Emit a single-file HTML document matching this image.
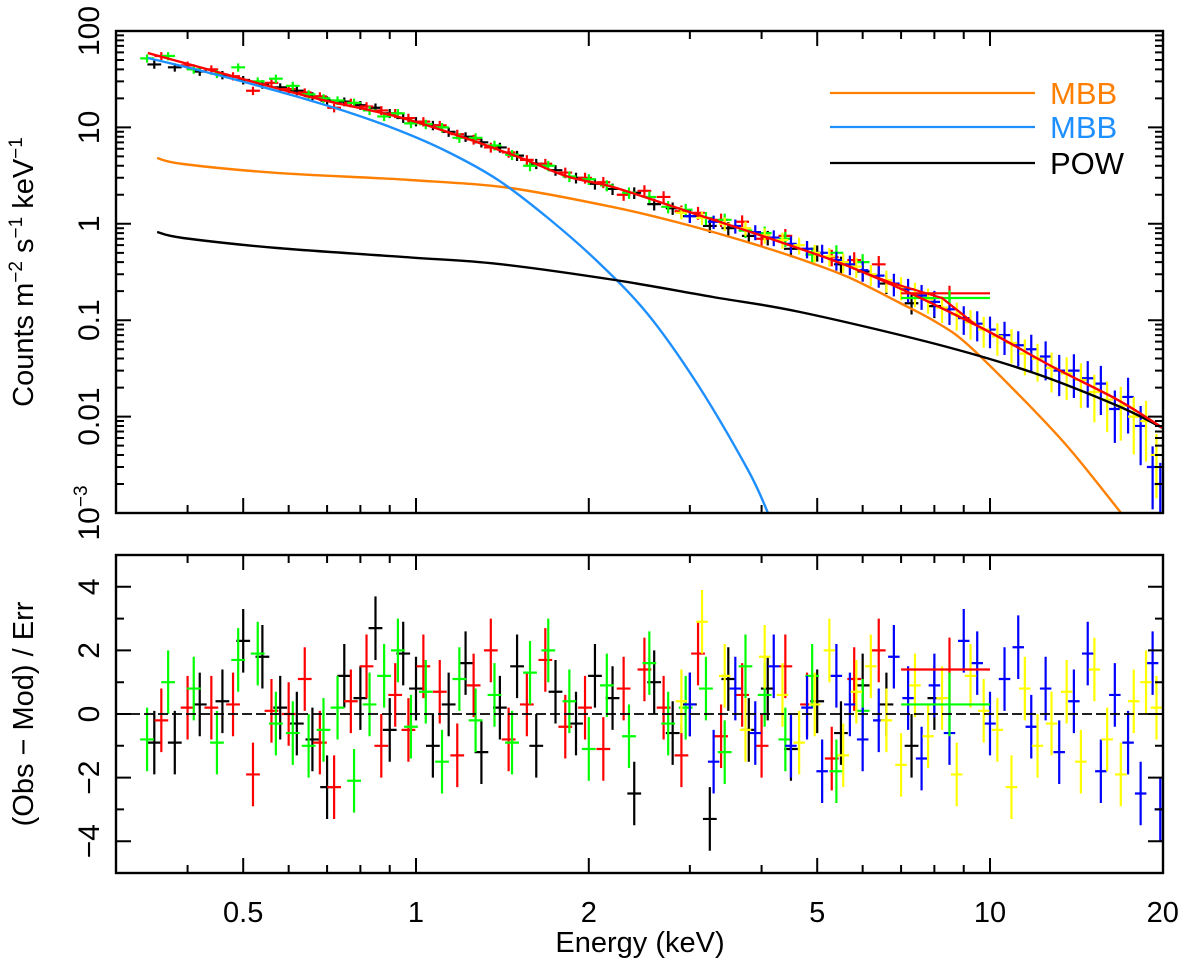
<!DOCTYPE html>
<html><head><meta charset="utf-8"><style>
html,body{margin:0;padding:0;background:#fff}
svg{display:block}
text{font-family:"Liberation Sans",sans-serif;fill:#000}
</style></head><body>
<svg id="chart" width="1200" height="965" viewBox="0 0 1200 965" xmlns="http://www.w3.org/2000/svg">
<g id="top-panel"></g>
<g id="bot-panel"></g>
<g id="axes"></g>
<g id="legend">
<line x1="830" y1="93" x2="1035" y2="93" stroke="#ff7f00" stroke-width="2.2"/>
<text x="1050" y="104" font-size="31" style="fill:#ff7f00">MBB</text>
<line x1="830" y1="127" x2="1035" y2="127" stroke="#1e8fff" stroke-width="2.2"/>
<text x="1050" y="138" font-size="31" style="fill:#1e8fff">MBB</text>
<line x1="830" y1="163" x2="1035" y2="163" stroke="#000" stroke-width="2.2"/>
<text x="1050" y="174" font-size="31">POW</text>
</g>
<text x="640" y="952" font-size="29" text-anchor="middle">Energy (keV)</text>
<text transform="translate(33,272) rotate(-90)" font-size="29" text-anchor="middle">Counts m<tspan font-size="19" dy="-11">−2</tspan><tspan dy="11"> s</tspan><tspan font-size="19" dy="-11">−1</tspan><tspan dy="11"> keV</tspan><tspan font-size="19" dy="-11">−1</tspan></text>
<text transform="translate(33,714) rotate(-90)" font-size="29" text-anchor="middle">(Obs − Mod) / Err</text>
</svg>
<script>
// ---- model curves (energy keV, counts) ----
const mbbBlueE = [0.341,0.417,0.510,0.623,0.761,0.930,1.137,1.390,1.698,2.075,2.537,3.099,3.788,4.105];
const mbbBlueV = [52.5,39.4,28.9,20.7,14.4,9.40,5.56,2.85,1.149,0.402,0.1146,0.02127,0.00279,0.001];
const mbbOrangeE = [0.354,0.3927,0.5727,0.976,1.458,2.204,2.884,3.773,4.667,5.657,6.97,8.05,9.08,11.15,13.67,16.92];
const mbbOrangeV = [4.82,4.17,3.37,2.85,2.35,1.49,1.02,0.647,0.431,0.2806,0.1509,0.0958,0.058,0.01757,0.00484,0.001];
const powE = [0.354,0.3927,0.5727,0.976,1.384,2.222,3.291,4.667,8.05,11.93,16.7,20.0];
const powV = [0.822,0.713,0.561,0.448,0.385,0.261,0.174,0.1217,0.0566,0.0283,0.0129,0.00762];
const totalE = [0.341,0.4377,0.6535,0.976,1.476,1.833,2.204,2.966,4.31,6.06,9.45,12.78,16.7,20.0];
const totalV = [59.1,39.4,20.7,11.9,5.17,3.1,2.41,1.35,0.647,0.309,0.0891,0.0335,0.0149,0.00762];
const bumpE = [6.06,6.75,8.25,9.45];
const bumpV = [0.309,0.243,0.170,0.0891];
// ---- data sets ----
const blackE = [0.35,0.38,0.42,0.46,0.5,0.54,0.58,0.62,0.66,0.7,0.75,0.8,0.85,0.9,0.95,1.0,1.07,1.14,1.22,1.3,1.4,1.5,1.62,1.75,1.9,2.05,2.2,2.4,2.6,2.8,3.0,3.25,3.5,3.8,4.1,4.5,5.0,5.5,6.0,6.6,7.3,8.0];
const blackF = [45,42,38,35,31,28,26,24,21,19,18.5,17,16,14,12.5,11.5,10.5,9,8,7,6.2,5.1,4.2,3.6,3.0,2.6,2.3,2.1,1.6,1.45,1.2,0.95,0.9,0.75,0.72,0.55,0.5,0.38,0.32,0.24,0.15,0.14];
const blackR = [-0.9,-0.9,0.3,0.4,2.3,1.8,0.2,-0.3,-0.8,-2.3,1.2,0.5,2.7,-0.5,1.9,0.8,-1.0,0.3,1.6,-1.2,0.2,1.5,-1.0,0.7,-0.3,1.2,0.5,-2.5,1.0,-0.6,0.3,-3.3,1.1,-0.5,0.8,-1.1,0.4,-0.6,0.9,0.3,-1.0,0.5];
const redE = [0.36,0.4,0.44,0.48,0.52,0.56,0.6,0.64,0.68,0.72,0.77,0.82,0.87,0.92,0.97,1.03,1.1,1.18,1.26,1.35,1.45,1.56,1.68,1.82,1.97,2.12,2.3,2.5,2.7,2.9,3.1,3.4,3.7,4.0,4.4,4.8,5.3,5.8,6.4];
const redF = [55,44,40,34,24,29,25,23,21,16,18,16.5,15,14,12.5,11.5,10.5,8.5,7.5,6.2,5.5,4.6,4.2,3.4,3.0,2.7,2.0,2.2,1.9,1.35,1.3,1.1,1.05,0.7,0.75,0.55,0.45,0.42,0.38];
const redR = [-0.2,0.2,0.2,0.3,-1.9,0.1,0.0,1.1,-0.9,-2.3,0.4,1.5,-1.0,0.6,-0.5,1.5,0.7,-1.3,0.9,2.0,-0.8,0.3,1.7,-0.4,0.2,-1.1,0.8,1.4,0.2,-1.3,1.9,-0.7,0.6,-1.0,1.5,0.3,-1.4,1.1,2.0];
const greenE = [0.34,0.37,0.41,0.45,0.49,0.53,0.57,0.61,0.65,0.69,0.73,0.78,0.83,0.88,0.93,0.98,1.04,1.11,1.19,1.27,1.37,1.47,1.58,1.7,1.85,2.0,2.15,2.35,2.55,2.75,2.95,3.2,3.45,3.75,4.05,4.4,4.9,5.4,6.0];
const greenF = [52,55,40,36,42,30,32,27,22,20,19,18,15,13,14,11,10.8,10,7.8,7.8,6.5,5.2,4.0,4.0,3.1,2.9,2.5,2.1,1.9,1.5,1.4,1.15,1.1,0.85,0.8,0.7,0.48,0.5,0.4];
const greenR = [-0.8,1.0,0.8,-0.9,1.7,1.9,-0.3,-0.6,-1.0,-0.5,0.2,-2.1,0.3,1.2,2.0,-0.4,0.7,-1.5,1.1,-0.2,0.6,-0.9,1.3,2.0,0.4,-1.1,0.9,-0.7,1.6,-0.3,0.2,0.8,-1.2,1.5,0.6,-0.8,1.2,-1.8,0.1];
const blueE = [3.0,3.3,3.6,3.9,4.2,4.5,4.8,5.1,5.4,5.7,6.0,6.4,6.8,7.2,7.6,8.0,8.5,9.0,9.5,10.0,10.6,11.2,11.8,12.5,13.2,14.0,14.8,15.6,16.5,17.4,18.3,19.2,19.8];
const blueF = [1.2,1.05,0.95,0.82,0.72,0.62,0.55,0.5,0.42,0.38,0.33,0.29,0.24,0.21,0.18,0.155,0.13,0.105,0.092,0.08,0.07,0.055,0.05,0.042,0.03,0.03,0.025,0.022,0.012,0.016,0.008,0.003,0.002];
const blueR = [0.3,-1.5,0.8,-0.6,1.5,-1.0,0.2,-1.8,1.2,0.3,-0.8,-0.2,1.8,0.5,-1.4,0.9,-0.6,2.3,1.6,-0.3,1.1,2.1,-0.4,0.8,-1.2,0.4,1.9,-1.8,0.6,-0.9,-2.5,1.6,-3.0];
const yellowE = [2.9,3.15,3.45,3.75,4.05,4.35,4.65,4.95,5.25,5.55,5.85,6.2,6.6,7.0,7.4,7.8,8.25,8.75,9.25,9.75,10.3,10.9,11.5,12.1,12.8,13.6,14.4,15.2,16.0,16.9,17.8,18.7,19.5];
const yellowF = [1.3,1.15,1.0,0.9,0.76,0.68,0.6,0.5,0.46,0.4,0.36,0.3,0.26,0.22,0.19,0.165,0.135,0.115,0.095,0.08,0.068,0.058,0.045,0.04,0.032,0.028,0.024,0.018,0.015,0.013,0.01,0.009,0.004];
const yellowR = [0.4,2.9,1.2,-0.5,1.8,0.6,-0.9,0.3,2.0,-1.3,0.7,1.5,-0.2,-1.6,0.9,-0.7,0.5,-1.9,1.2,0.1,-0.5,-2.3,0.8,-1.0,-0.3,0.7,-1.5,1.4,-0.8,-1.9,0.4,1.0,0.2];
const wideE = [8.5,8.5];
const wideLo = [7.0,7.0];
const wideHi = [10.0,10.0];
const wideF = [0.19,0.17];
const wideR = [1.4,0.3];
const wideSet = ['red','green'];
const xTicks = [0.5,1,2,5,10,20];
const xTickLabels = ['0.5','1','2','5','10','20'];
const yTopTicks = [100,10,1,0.1,0.01,0.001];
const yTopLabels = ['100','10','1','0.1','0.01','10^-3'];
const yBotTicks = [4,2,0,-2,-4];
const yBotLabels = ['4','2','0','−2','−4'];

const L=116,R=1163,T1=31,B1=513,T2=555,B2=873;
const xs=e=>416+574*Math.log10(e);
const yTop=v=>T1+(2-Math.log10(v))*96.4;
const yBot=r=>T2+(5-r)*(B2-T2)/10;
const NS='http://www.w3.org/2000/svg';
function mk(tag,attrs,parent){const el=document.createElementNS(NS,tag);for(const k in attrs)el.setAttribute(k,attrs[k]);parent.appendChild(el);return el;}
const topG=document.getElementById('top-panel'),botG=document.getElementById('bot-panel'),ax=document.getElementById('axes');
const svgEl=document.getElementById('chart');
const defs=mk('defs',{},svgEl);
const c1=mk('clipPath',{id:'c1'},defs);mk('rect',{x:L,y:T1,width:R-L,height:B1-T1},c1);
const c2=mk('clipPath',{id:'c2'},defs);mk('rect',{x:L,y:T2,width:R-L,height:B2-T2},c2);
topG.setAttribute('clip-path','url(#c1)');botG.setAttribute('clip-path','url(#c2)');
const COL={black:'#000',red:'#ff0000',green:'#00ff00',blue:'#0000ff',yellow:'#ffff00'};
const sets=[['black',blackE,blackF,blackR,0.012,0.09,0.02],['red',redE,redF,redR,0.012,0.09,0.02],['green',greenE,greenF,greenR,0.012,0.09,0.02],['blue',blueE,blueF,blueR,0.01,0.06,0.03],['yellow',yellowE,yellowF,yellowR,0.01,0.06,0.03]];
function cross(g,x1,x2,xc,y,y1,y2,col,name){
  const p=mk('path',{d:`M${x1},${y}H${x2}M${xc},${y1}V${y2}`,stroke:col,'stroke-width':2.2,fill:'none'},g);
  
  
}
for(const [name,E,F,Rs,hw,f0,f1] of sets){
  const gT=mk('g',{},topG);
  
  
  const gB=mk('g',{},botG);
  
  
  for(let i=0;i<E.length;i++){
    const xc=xs(E[i]),x1=xs(E[i]*Math.pow(10,-hw)),x2=xs(E[i]*Math.pow(10,hw));
    const fr=Math.min(0.8,f0+f1*E[i]);
    cross(gT,x1,x2,xc,yTop(F[i]),yTop(F[i]*(1+fr)),yTop(Math.max(F[i]*(1-fr),1e-4)),COL[name],name+'-point');
    cross(gB,x1,x2,xc,yBot(Rs[i]),yBot(Rs[i]+1),yBot(Rs[i]-1),COL[name],name+'-residual');
  }
}
for(let i=0;i<wideE.length;i++){
  const c=COL[wideSet[i]];
  cross(topG,xs(wideLo[i]),xs(wideHi[i]),xs(wideE[i]),yTop(wideF[i]),yTop(wideF[i]*1.2),yTop(wideF[i]*0.85),c,wideSet[i]+'-wide-bin-point');
  cross(botG,xs(wideLo[i]),xs(wideHi[i]),xs(wideE[i]),yBot(wideR[i]),yBot(wideR[i]+1),yBot(wideR[i]-1),c,wideSet[i]+'-wide-bin-residual');
}
function curve(E,V,col,name,w,smooth){
  const P=E.map((e,i)=>[xs(e),yTop(V[i])]);
  let d='M'+P[0][0].toFixed(1)+','+P[0][1].toFixed(1);
  for(let i=0;i<P.length-1;i++){
    if(!smooth){d+='L'+P[i+1][0].toFixed(1)+','+P[i+1][1].toFixed(1);continue;}
    const p0=P[Math.max(0,i-1)],p1=P[i],p2=P[i+1],p3=P[Math.min(P.length-1,i+2)];
    const a=[p1[0]+(p2[0]-p0[0])/6,p1[1]+(p2[1]-p0[1])/6],b=[p2[0]-(p3[0]-p1[0])/6,p2[1]-(p3[1]-p1[1])/6];
    d+=`C${a[0].toFixed(1)},${a[1].toFixed(1)} ${b[0].toFixed(1)},${b[1].toFixed(1)} ${p2[0].toFixed(1)},${p2[1].toFixed(1)}`;
  }
  const p=mk('path',{d,stroke:col,'stroke-width':w||2.2,fill:'none','stroke-linejoin':'round'},topG);
  
  
}
curve(mbbOrangeE,mbbOrangeV,'#ff7f00','mbb-orange-curve',2.4,true);
curve(mbbBlueE,mbbBlueV,'#1e8fff','mbb-blue-curve',2.4,true);
curve(powE,powV,'#000','pow-curve',2.4,true);
curve(totalE,totalV,'#ff0000','total-model-curve',2.4,true);
curve(bumpE,bumpV,'#ff0000','binned-model-segment',2.2,false);
const zl=mk('line',{x1:L,x2:R,y1:yBot(0),y2:yBot(0),stroke:'#000','stroke-width':1.8,'stroke-dasharray':'10,4'},botG);


for(const [t,b,n] of [[T1,B1,'top-frame'],[T2,B2,'bottom-frame']]){
  const r=mk('rect',{x:L,y:t,width:R-L,height:b-t,fill:'none',stroke:'#000','stroke-width':2.4},ax);
  
  
}
let tk='';
const minorX=[0.4,0.6,0.7,0.8,0.9,3,4,6,7,8,9];
for(const [t,b] of [[T1,B1],[T2,B2]]){
  for(const e of xTicks){if(e>=20)continue;const x=xs(e);tk+=`M${x},${b}v-15M${x},${t}v15`;}
  for(const e of minorX){const x=xs(e);tk+=`M${x},${b}v-8M${x},${t}v8`;}
}
for(let d=-3;d<=2;d++){for(let m=1;m<=9;m++){const v=m*Math.pow(10,d);if(v>100)continue;const y=yTop(v);const len=m===1?15:8;tk+=`M${L},${y}h${len}M${R},${y}h-${len}`;}}
for(let r=-4;r<=4;r++){const y=yBot(r);const len=r%2===0?15:8;tk+=`M${L},${y}h${len}M${R},${y}h-${len}`;}
const tp=mk('path',{d:tk,stroke:'#000','stroke-width':2,fill:'none'},ax);


xTicks.forEach((e,i)=>{
  const t=mk('text',{x:xs(e),y:922,'font-size':29,'text-anchor':'middle'},ax);
  t.textContent=xTickLabels[i];
  
  
});
yTopTicks.forEach((v,i)=>{
  const t=mk('text',{transform:`translate(99,${yTop(v)}) rotate(-90)`,'font-size':30,'text-anchor':'middle'},ax);
  if(yTopLabels[i].indexOf('^')>=0){const p=yTopLabels[i].split('^');t.textContent=p[0];const s=mk('tspan',{'font-size':19,dy:-12},t);s.textContent=p[1].replace('-','−');}
  else t.textContent=yTopLabels[i];
  
  
});
yBotTicks.forEach((v,i)=>{
  const t=mk('text',{transform:`translate(99,${yBot(v)}) rotate(-90)`,'font-size':30,'text-anchor':'middle'},ax);
  t.textContent=yBotLabels[i];
  
  
});
</script>
</body></html>
